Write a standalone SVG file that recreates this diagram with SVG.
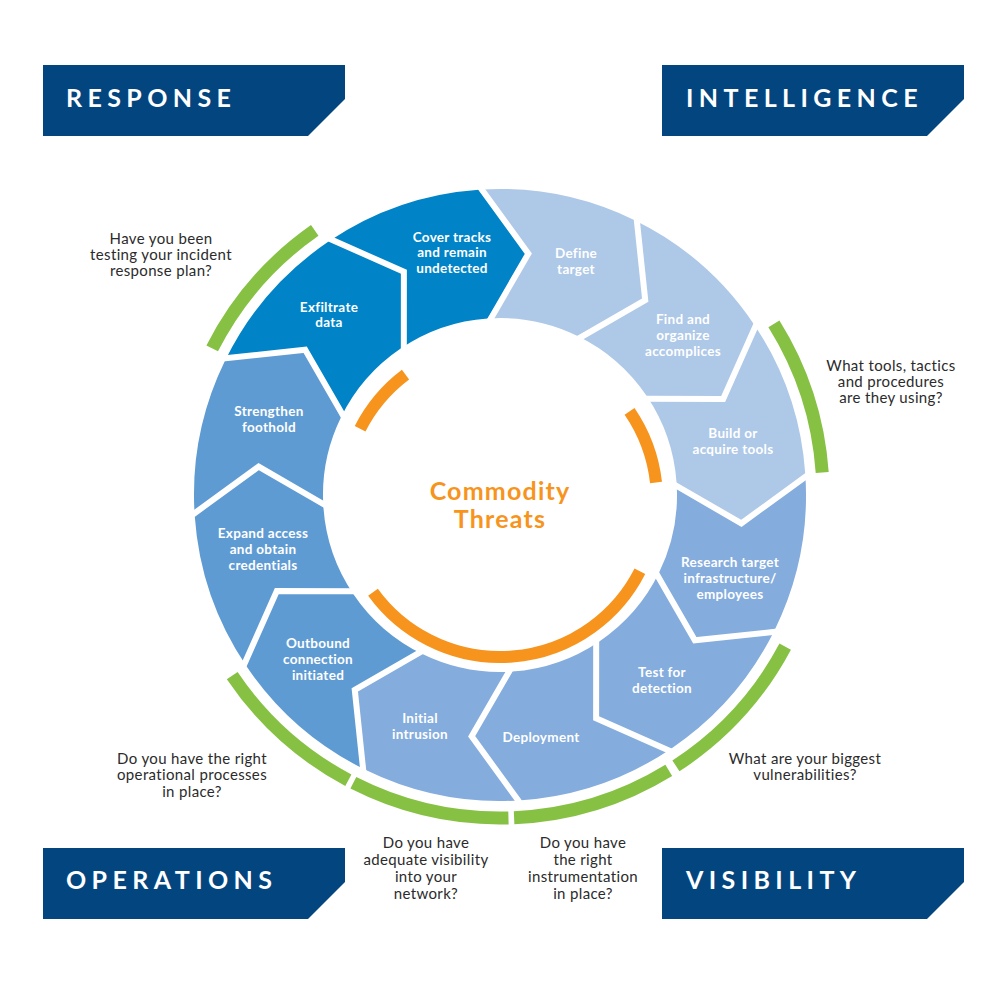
<svg xmlns="http://www.w3.org/2000/svg" width="1000" height="1000" viewBox="0 0 1000 1000">
<style>
.c1{fill:#aec8e8}.c2{fill:#84acdd}.c3{fill:#5f9bd3}.c4{fill:#0083c7}
.lbl{font-family:Lato,"Open Sans","DejaVu Sans",sans-serif;font-weight:700;font-size:13.5px;fill:#ffffff;text-anchor:middle;letter-spacing:0.3px}
.q{font-family:Lato,"Open Sans","DejaVu Sans",sans-serif;font-weight:400;font-size:15px;fill:#2b2b2b;text-anchor:middle;letter-spacing:0.35px}
.hdr{font-family:Lato,"Open Sans","DejaVu Sans",sans-serif;font-weight:700;font-size:25px;fill:#ffffff;letter-spacing:5.4px}
.box{fill:#03467f}
.green{fill:none;stroke:#86c143;stroke-width:13}
.orange{fill:none;stroke:#f7941d;stroke-width:12}
.sep{fill:none;stroke:#ffffff;stroke-width:6;stroke-linejoin:miter}
.ctr{font-family:Lato,"Open Sans","DejaVu Sans",sans-serif;font-weight:700;font-size:25px;fill:#f7941d;text-anchor:middle;letter-spacing:1.2px}
</style>
<rect width="1000" height="1000" fill="#ffffff"/>

<g id="header-response"><path class="box" d="M43 65H345V99L308 136H43Z"/><text class="hdr" x="66" y="107">RESPONSE</text></g>
<g id="header-intelligence"><path class="box" d="M662 65H964V99L927 136H662Z"/><text class="hdr" x="686" y="107">INTELLIGENCE</text></g>
<g id="header-operations"><path class="box" d="M43 848H345V882L308 919H43Z"/><text class="hdr" x="66" y="889">OPERATIONS</text></g>
<g id="header-visibility"><path class="box" d="M662 848H964V882L927 919H662Z"/><text class="hdr" x="686" y="889">VISIBILITY</text></g>

<g id="seg-define-target">
<path class="c1" d="M478.65 189.75A306 306 0 0 1 634.14 219.97L645.22 300.17L577.59 335.91A177 177 0 0 0 487.65 318.43L528.35 253.66Z"/>
<text class="lbl"><tspan x="576" y="258.3">Define</tspan><tspan x="576" y="273.8">target</tspan></text>
</g>
<g id="seg-find-accomplices">
<path class="c1" d="M634.14 219.97A306 306 0 0 1 753.69 323.89L723.18 398.88L646.74 396.02A177 177 0 0 0 577.59 335.91L645.22 300.17Z"/>
<text class="lbl"><tspan x="683" y="324">Find and</tspan><tspan x="683" y="340">organize</tspan><tspan x="683" y="356">accomplices</tspan></text>
</g>
<g id="seg-build-tools">
<path class="c1" d="M753.69 323.89A306 306 0 0 1 805.25 473.65L741.34 523.35L676.57 482.65A177 177 0 0 0 646.74 396.02L723.18 398.88Z"/>
<text class="lbl"><tspan x="733" y="438.3">Build or</tspan><tspan x="733" y="454">acquire tools</tspan></text>
</g>
<g id="seg-research-target">
<path class="c2" d="M805.25 473.65A306 306 0 0 1 775.03 629.14L694.83 640.22L659.09 572.59A177 177 0 0 0 676.57 482.65L741.34 523.35Z"/>
<text class="lbl"><tspan x="730" y="567.3">Research target</tspan><tspan x="730" y="583.3">infrastructure/</tspan><tspan x="730" y="599.3">employees</tspan></text>
</g>
<g id="seg-test-detection">
<path class="c2" d="M775.03 629.14A306 306 0 0 1 671.11 748.69L596.12 718.18L598.98 641.74A177 177 0 0 0 659.09 572.59L694.83 640.22Z"/>
<text class="lbl"><tspan x="662" y="676.7">Test for</tspan><tspan x="662" y="692.7">detection</tspan></text>
</g>
<g id="seg-deployment">
<path class="c2" d="M671.11 748.69A306 306 0 0 1 521.35 800.25L471.65 736.34L512.35 671.57A177 177 0 0 0 598.98 641.74L596.12 718.18Z"/>
<text class="lbl" x="541" y="741.7">Deployment</text>
</g>
<g id="seg-initial-intrusion">
<path class="c2" d="M521.35 800.25A306 306 0 0 1 365.86 770.03L354.78 689.83L422.41 654.09A177 177 0 0 0 512.35 671.57L471.65 736.34Z"/>
<text class="lbl"><tspan x="420" y="723.3">Initial</tspan><tspan x="420" y="739.3">intrusion</tspan></text>
</g>
<g id="seg-outbound-connection">
<path class="c3" d="M365.86 770.03A306 306 0 0 1 246.31 666.11L276.82 591.12L353.26 593.98A177 177 0 0 0 422.41 654.09L354.78 689.83Z"/>
<text class="lbl"><tspan x="318" y="647.7">Outbound</tspan><tspan x="318" y="664">connection</tspan><tspan x="318" y="680">initiated</tspan></text>
</g>
<g id="seg-expand-access">
<path class="c3" d="M246.31 666.11A306 306 0 0 1 194.75 516.35L258.66 466.65L323.43 507.35A177 177 0 0 0 353.26 593.98L276.82 591.12Z"/>
<text class="lbl"><tspan x="263" y="538.3">Expand access</tspan><tspan x="263" y="554.3">and obtain</tspan><tspan x="263" y="570">credentials</tspan></text>
</g>
<g id="seg-strengthen-foothold">
<path class="c3" d="M194.75 516.35A306 306 0 0 1 224.97 360.86L305.17 349.78L340.91 417.41A177 177 0 0 0 323.43 507.35L258.66 466.65Z"/>
<text class="lbl"><tspan x="269" y="416">Strengthen</tspan><tspan x="269" y="431.7">foothold</tspan></text>
</g>
<g id="seg-exfiltrate-data">
<path class="c4" d="M224.97 360.86A306 306 0 0 1 328.89 241.31L403.88 271.82L401.02 348.26A177 177 0 0 0 340.91 417.41L305.17 349.78Z"/>
<text class="lbl"><tspan x="329" y="311.7">Exfiltrate</tspan><tspan x="329" y="327.3">data</tspan></text>
</g>
<g id="seg-cover-tracks">
<path class="c4" d="M328.89 241.31A306 306 0 0 1 478.65 189.75L528.35 253.66L487.65 318.43A177 177 0 0 0 401.02 348.26L403.88 271.82Z"/>
<text class="lbl"><tspan x="452" y="241.7">Cover tracks</tspan><tspan x="452" y="257.3">and remain</tspan><tspan x="452" y="272.7">undetected</tspan></text>
</g>

<g id="connectors">
<polyline class="sep" points="478.30,184.76 528.35,253.66 488.00,323.42"/>
<polyline class="sep" points="636.33,215.48 645.22,300.17 575.40,340.41"/>
<polyline class="sep" points="757.83,321.09 723.18,398.88 642.59,398.82"/>
<polyline class="sep" points="810.24,473.30 741.34,523.35 671.58,483.00"/>
<polyline class="sep" points="779.52,631.33 694.83,640.22 654.59,570.40"/>
<polyline class="sep" points="673.91,752.83 596.12,718.18 596.18,637.59"/>
<polyline class="sep" points="521.70,805.24 471.65,736.34 512.00,666.58"/>
<polyline class="sep" points="363.67,774.52 354.78,689.83 424.60,649.59"/>
<polyline class="sep" points="242.17,668.91 276.82,591.12 357.41,591.18"/>
<polyline class="sep" points="189.76,516.70 258.66,466.65 328.42,507.00"/>
<polyline class="sep" points="220.48,358.67 305.17,349.78 345.41,419.60"/>
<polyline class="sep" points="326.09,237.17 403.88,271.82 403.82,352.41"/>
</g>

<g id="green-arcs">
<path class="green" d="M212.20 348.36A323 323 0 0 1 314.73 230.41"/>
<path class="green" d="M773.92 323.84A323 323 0 0 1 822.21 472.47"/>
<path class="green" d="M785.19 646.64A323 323 0 0 1 675.92 765.89"/>
<path class="green" d="M668.77 770.40A323 323 0 0 1 514.09 817.69"/>
<path class="green" d="M508.46 817.89A323 323 0 0 1 353.36 782.80"/>
<path class="green" d="M348.36 780.19A323 323 0 0 1 232.22 675.62"/>
</g>

<g id="orange-arcs">
<path class="orange" d="M360.11 428.72A157 157 0 0 1 405.51 374.61"/>
<path class="orange" d="M629.54 411.30A157 157 0 0 1 656.02 482.50"/>
<path class="orange" d="M639.89 571.28A157 157 0 0 1 372.98 592.28"/>
</g>

<g id="center">
<text class="ctr"><tspan x="500" y="500">Commodity</tspan><tspan x="500" y="527.5">Threats</tspan></text>
</g>

<g id="q-response">
<text class="q"><tspan x="161" y="244">Have you been</tspan><tspan x="161" y="260">testing your incident</tspan><tspan x="161" y="276">response plan?</tspan></text>
</g>
<g id="q-intelligence">
<text class="q"><tspan x="891" y="371">What tools, tactics</tspan><tspan x="891" y="387">and procedures</tspan><tspan x="891" y="403">are they using?</tspan></text>
</g>
<g id="q-vulnerabilities">
<text class="q"><tspan x="805" y="763.5">What are your biggest</tspan><tspan x="805" y="780">vulnerabilities?</tspan></text>
</g>
<g id="q-operations">
<text class="q"><tspan x="192" y="763.5">Do you have the right</tspan><tspan x="192" y="780">operational processes</tspan><tspan x="192" y="796.5">in place?</tspan></text>
</g>
<g id="q-visibility-network">
<text class="q"><tspan x="426" y="848">Do you have</tspan><tspan x="426" y="865">adequate visibility</tspan><tspan x="426" y="882">into your</tspan><tspan x="426" y="899">network?</tspan></text>
</g>
<g id="q-instrumentation">
<text class="q"><tspan x="583" y="848">Do you have</tspan><tspan x="583" y="865">the right</tspan><tspan x="583" y="882">instrumentation</tspan><tspan x="583" y="899">in place?</tspan></text>
</g>
</svg>
